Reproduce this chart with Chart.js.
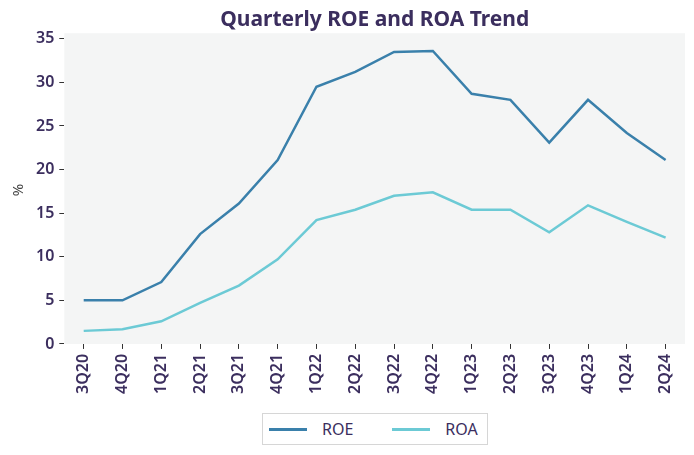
<!DOCTYPE html>
<html>
<head>
<meta charset="utf-8">
<script src="https://cdn.jsdelivr.net/npm/chart.js@4"></script>
<style>
  html, body { margin: 0; padding: 0; background: #fff; }
  #wrap { position: relative; width: 694px; height: 455px; }
  #legend {
    position: absolute; top: 413px; height: 30px;
    display: flex; align-items: center;
    border: 1px solid #d6d6d6; background: #fff;
    padding: 0 9px 0 6px;
    font-family: 'Noto Sans', sans-serif; font-size: 16px; color: #3b2e5e;
  }
  #legend .item { display: flex; align-items: center; }
  #legend .item + .item { margin-left: 39px; }
  #legend .swatch { width: 38px; height: 3px; margin-right: 15px; }
</style>
</head>
<body>
<div id="wrap">
  <canvas id="myChart" width="694" height="455"></canvas>
  <div id="legend"></div>
</div>
<script>
// quarters on the x axis
const quarters = ['3Q20', '4Q20', '1Q21', '2Q21', '3Q21', '4Q21', '1Q22', '2Q22',
  '3Q22', '4Q22', '1Q23', '2Q23', '3Q23', '4Q23', '1Q24', '2Q24'];
// values, in %
const roe = [5.0, 5.0, 7.1, 12.6, 16.1, 21.1, 29.5, 31.2, 33.5, 33.6, 28.7, 28.0, 23.1, 28.0, 24.2, 21.1];
const roa = [1.5, 1.7, 2.6, 4.7, 6.7, 9.7, 14.2, 15.4, 17.0, 17.4, 15.4, 15.4, 12.8, 15.9, 14.0, 12.2];
const yTicks = [0, 5, 10, 15, 20, 25, 30, 35];

const textColor = '#3b2e5e';
const fontFamily = "'Noto Sans', 'Open Sans', sans-serif";

// light grey plot background
const plotBg = {
  id: 'plotBg',
  beforeDraw(chart) {
    const a = chart.chartArea;
    const ctx = chart.ctx;
    ctx.save();
    ctx.fillStyle = '#f4f5f5';
    ctx.fillRect(a.left, a.top - 3, a.right - a.left, a.bottom - a.top + 3);
    ctx.restore();
  }
};

// html legend built from the chart's own legend items, centred under the plot
const htmlLegend = {
  id: 'htmlLegend',
  afterUpdate(chart) {
    const box = document.getElementById('legend');
    box.innerHTML = '';
    const items = chart.options.plugins.legend.labels.generateLabels(chart);
    items.forEach(it => {
      const row = document.createElement('div');
      row.className = 'item';
      const sw = document.createElement('span');
      sw.className = 'swatch';
      sw.style.background = it.strokeStyle;
      const txt = document.createElement('span');
      txt.textContent = it.text;
      row.appendChild(sw);
      row.appendChild(txt);
      box.appendChild(row);
    });
    const a = chart.chartArea;
    box.style.left = Math.round((a.left + a.right) / 2 - box.offsetWidth / 2) + 'px';
  }
};

const ctx = document.getElementById('myChart').getContext('2d');
const chart = new Chart(ctx, {
  type: 'line',
  data: {
    labels: quarters,
    datasets: [
      {
        label: 'ROE',
        data: roe,
        borderColor: '#3a80ab',
        backgroundColor: '#3a80ab',
        borderWidth: 2.5,
        pointRadius: 0,
        tension: 0
      },
      {
        label: 'ROA',
        data: roa,
        borderColor: '#6ccad5',
        backgroundColor: '#6ccad5',
        borderWidth: 2.5,
        pointRadius: 0,
        tension: 0
      }
    ]
  },
  options: {
    responsive: false,
    animation: false,
    layout: { padding: { left: 10, right: 9, top: 7, bottom: 56 } },
    plugins: {
      title: {
        display: true,
        text: 'Quarterly ROE and ROA Trend',
        fullSize: false,
        color: textColor,
        font: { family: fontFamily, size: 21, weight: 'bold' },
        padding: { top: 0, bottom: 4 }
      },
      legend: { display: false },
      tooltip: { enabled: false }
    },
    scales: {
      x: {
        offset: true,
        border: { display: false },
        grid: { drawOnChartArea: false, drawTicks: true, tickLength: 5, color: '#333', offset: false },
        ticks: {
          color: textColor,
          font: { family: fontFamily, size: 16, weight: '600' },
          minRotation: 90,
          maxRotation: 90,
          padding: 5,
          autoSkip: false
        }
      },
      y: {
        min: 0,
        max: 35.3,
        border: { display: false },
        grid: { drawOnChartArea: false, drawTicks: true, tickLength: 5, color: '#333' },
        afterBuildTicks(scale) {
          scale.ticks = yTicks.map(v => ({ value: v }));
        },
        ticks: {
          color: textColor,
          font: { family: fontFamily, size: 16, weight: '600' },
          padding: 5
        },
        title: {
          display: true,
          text: '%',
          color: '#444',
          font: { family: fontFamily, size: 15 },
          padding: { top: 0, bottom: 3 }
        }
      }
    }
  },
  plugins: [plotBg, htmlLegend]
});
</script>
</body>
</html>
